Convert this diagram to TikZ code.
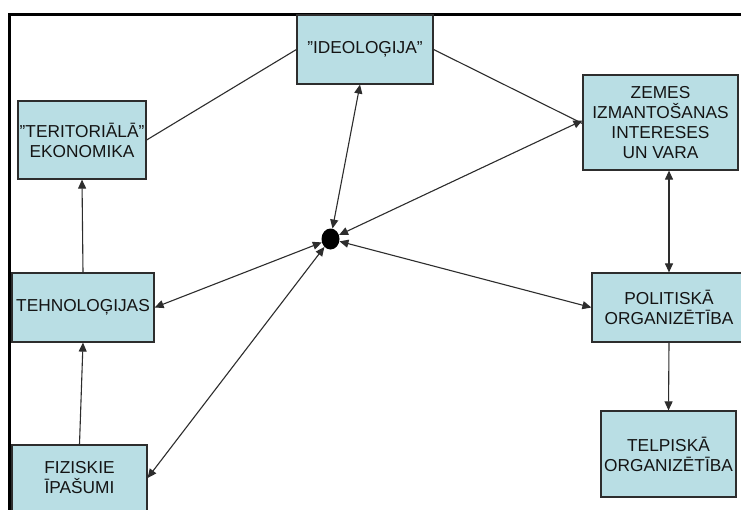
\documentclass[tikz,border=0pt]{standalone}
\usepackage{fontspec}
\setmainfont{Liberation Sans}
\usetikzlibrary{arrows.meta,shapes.geometric}
\definecolor{boxfill}{RGB}{185,222,228}
\definecolor{boxline}{RGB}{45,45,45}
\definecolor{txt}{RGB}{20,20,20}
\begin{document}
\begin{tikzpicture}[x=1pt,y=-1pt,
  box/.style={draw=boxline,line width=1.2pt,fill=boxfill,text=txt,align=center,inner sep=0pt,
    font=\fontsize{17.3}{20}\selectfont},
  conn/.style={draw=boxline,line width=1.1pt},
  tip/.style={-{Triangle[length=9pt,width=8pt]}},
  both/.style={{Triangle[length=9pt,width=8pt]}-{Triangle[length=9pt,width=8pt]}}]
\useasboundingbox (0,0) rectangle (741,509);
\clip (0,0) rectangle (741,509);
\fill[white] (0,0) rectangle (741,509);
\draw[line width=3pt] (9,14) rectangle (780,560);
\node[box,minimum width=136pt,minimum height=69pt] (ideo) at (365,49.5) {"IDEOLOĢIJA"};
\node[box,minimum width=128pt,minimum height=78pt] (ter) at (82,140) {"TERITORIĀLĀ"\\EKONOMIKA};
\node[box,minimum width=155pt,minimum height=95pt] (zem) at (660.5,122.5) {ZEMES\\IZMANTOŠANAS\\INTERESES\\UN VARA};
\node[box,minimum width=142pt,minimum height=69pt] (teh) at (83,307.5) {TEHNOLOĢIJAS};
\node[box,minimum width=154pt,minimum height=69pt] (pol) at (669,307.5) {POLITISKĀ\\ORGANIZĒTĪBA};
\node[box,minimum width=135pt,minimum height=66pt] (fiz) at (79.5,478) {FIZISKIE\\ĪPAŠUMI};
\node[box,minimum width=135pt,minimum height=86pt] (tel) at (668.5,454) {TELPISKĀ\\ORGANIZĒTĪBA};
\node[ellipse,fill=black,minimum width=18pt,minimum height=21pt,inner sep=0pt] (dot) at (330.5,239) {};
\draw[conn] (ideo.west) -- (ter.east);
\draw[conn] (ideo.east) -- ([yshift=-1pt]zem.west);
\draw[conn,tip] (teh.north) -- (ter.south);
\draw[conn,tip] (fiz.north) -- (teh.south);
\draw[conn,both] (pol.north) -- (pol.north |- zem.south);
\draw[conn,tip] (pol.south) -- (tel.north);
\draw[conn,both] (dot) -- ([xshift=-5pt]ideo.south);
\draw[conn,both] (dot) -- ([yshift=2pt]zem.west);
\draw[conn,both] (dot) -- (teh.east);
\draw[conn,both] (dot) -- (pol.west);
\draw[conn,both] (dot) -- (fiz.east);
\end{tikzpicture}
\end{document}
